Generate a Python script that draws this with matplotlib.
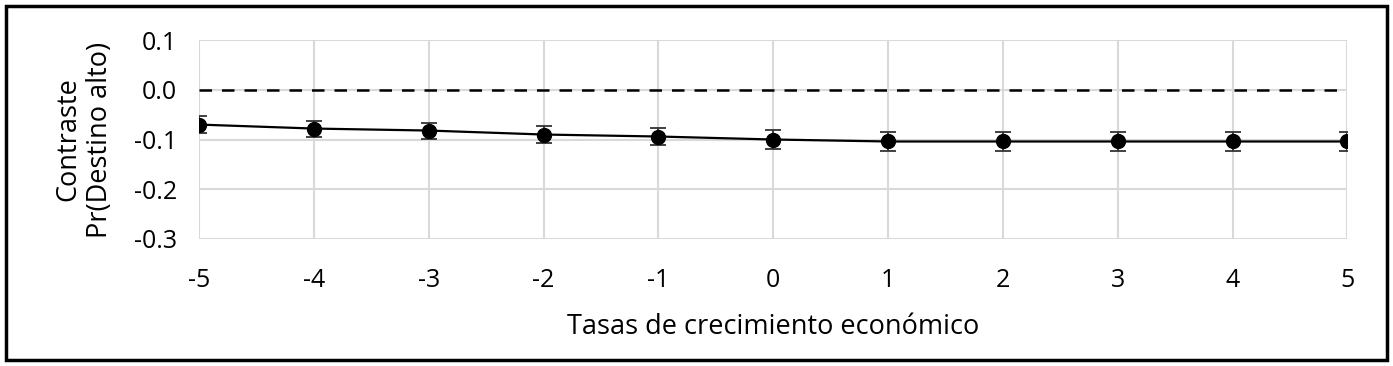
import matplotlib.pyplot as plt
from matplotlib.patches import Rectangle

plt.rcParams['font.family'] = ['Open Sans', 'DejaVu Sans']
plt.rcParams['axes.unicode_minus'] = False

growth = [-5, -4, -3, -2, -1, 0, 1, 2, 3, 4, 5]
contrast = [-0.070, -0.078, -0.082, -0.090, -0.094, -0.100, -0.104, -0.104, -0.104, -0.104, -0.104]
err = [0.017, 0.016, 0.016, 0.017, 0.018, 0.019, 0.020, 0.020, 0.020, 0.020, 0.020]
yticks = [0.1, 0.0, -0.1, -0.2, -0.3]

fig = plt.figure(figsize=(13.93, 3.66), dpi=100)
ax = fig.add_axes([0.1429, 0.347, 0.8244, 0.5437])

ax.axhline(0, color='black', linestyle=(0, (5, 4)), linewidth=1.8, zorder=2)
ax.errorbar(growth, contrast, yerr=err, color='black', marker='o', markersize=10,
            linewidth=1.6, ecolor='#333333', elinewidth=1.3, capsize=6, capthick=1.3, zorder=3)

ax.set_xlim(-5, 5)
ax.set_ylim(-0.3, 0.1)
ax.set_xticks(growth)
ax.set_yticks(yticks)
ax.set_yticklabels(['%.1f' % v for v in yticks])
ax.grid(True, color='#d9d9d9', linewidth=1.5, zorder=0)
ax.set_axisbelow(True)
for s in ax.spines.values():
    s.set_visible(False)
ax.tick_params(length=0, labelsize=18, colors='black')
ax.tick_params(axis='x', pad=21)
ax.tick_params(axis='y', pad=16)

ax.set_xlabel('Tasas de crecimiento económico', fontsize=19.5, labelpad=14)
ax.set_ylabel('Contraste\nPr(Destino alto)', fontsize=19.5, labelpad=14, linespacing=1.2)

fig.add_artist(Rectangle((0.004, 0.016), 0.992, 0.968, transform=fig.transFigure,
                         fill=False, edgecolor='black', linewidth=2.5))

fig.savefig('out.png', dpi=100)
